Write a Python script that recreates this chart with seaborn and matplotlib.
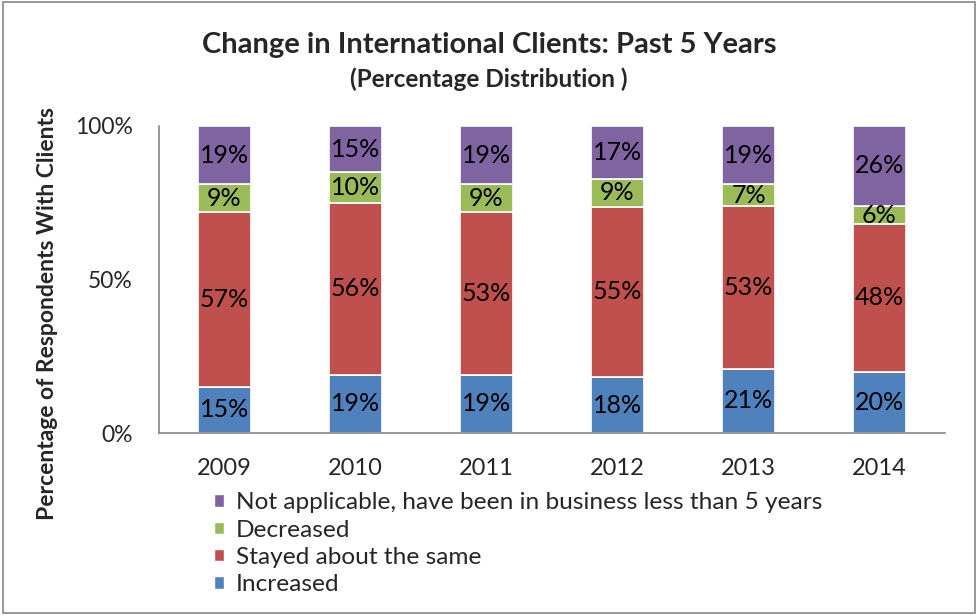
import numpy as np
import matplotlib.pyplot as plt
import seaborn as sns
from matplotlib.patches import Rectangle, Patch

years = ['2009', '2010', '2011', '2012', '2013', '2014']
increased = [15, 19, 19, 18, 21, 20]
stayed = [57, 56, 53, 55, 53, 48]
decreased = [9, 10, 9, 9, 7, 6]
not_applicable = [19, 15, 19, 17, 19, 26]

series = [
    ('Increased', increased, '#4F81BD'),
    ('Stayed about the same', stayed, '#C0504D'),
    ('Decreased', decreased, '#9BBB59'),
    ('Not applicable, have been in business less than 5 years', not_applicable, '#8064A2'),
]

sns.set_style('white')
plt.rcParams['font.family'] = ['Lato', 'DejaVu Sans']

fig = plt.figure(figsize=(9.78, 6.15), dpi=100)
ax = fig.add_axes([159 / 978, 1 - 433 / 615, 786 / 978, 307 / 615])

# 100% stacked: each bar is normalised to its own total
totals = np.sum([s[1] for s in series], axis=0)
bottom = np.zeros(len(years))
for name, vals, color in series:
    share = np.array(vals) / totals
    sns.barplot(x=years, y=share, bottom=bottom, color=color, width=0.4,
                edgecolor='white', linewidth=1.2, ax=ax, saturation=1)
    for i, v in enumerate(vals):
        ax.text(i, bottom[i] + share[i] / 2, f'{v}%', ha='center', va='center',
                fontsize=18, color='black')
    bottom += share

ax.set_ylim(0, 1)
ax.set_xlim(-0.5, 5.5)
ax.set_yticks([0, 0.5, 1])
ax.set_yticklabels(['0%', '50%', '100%'], fontsize=16.5)
ax.tick_params(axis='x', labelsize=17, pad=18, length=0)
ax.tick_params(axis='y', pad=19, length=0)
for side in ['top', 'right']:
    ax.spines[side].set_visible(False)
for side in ['left', 'bottom']:
    ax.spines[side].set_color('#868686')
    ax.spines[side].set_linewidth(1.2)
ax.set_xlabel('')
ax.set_ylabel('Percentage of Respondents With Clients', fontsize=16.5,
              fontweight='bold')
ax.yaxis.set_label_coords(-0.128, 0.39)

fig.text(0.5, 1 - 45 / 615, 'Change in International Clients: Past 5 Years',
         ha='center', va='center', fontsize=21, fontweight='bold')
fig.text(0.5, 1 - 79 / 615, '(Percentage Distribution )',
         ha='center', va='center', fontsize=17.5, fontweight='bold')

handles = [Patch(facecolor=c, label=n) for n, v, c in reversed(series)]
fig.legend(handles=handles, loc='upper left', bbox_to_anchor=(202 / 978, 1 - 480 / 615),
           frameon=False, fontsize=17.6, handlelength=0.4, handleheight=0.4,
           handletextpad=0.5, labelspacing=0.26, borderpad=0)

fig.patches.append(Rectangle((0.003, 0.004), 0.994, 0.992, transform=fig.transFigure,
                             fill=False, edgecolor='#868686', linewidth=1.2))

fig.savefig('out.png', dpi=100)
